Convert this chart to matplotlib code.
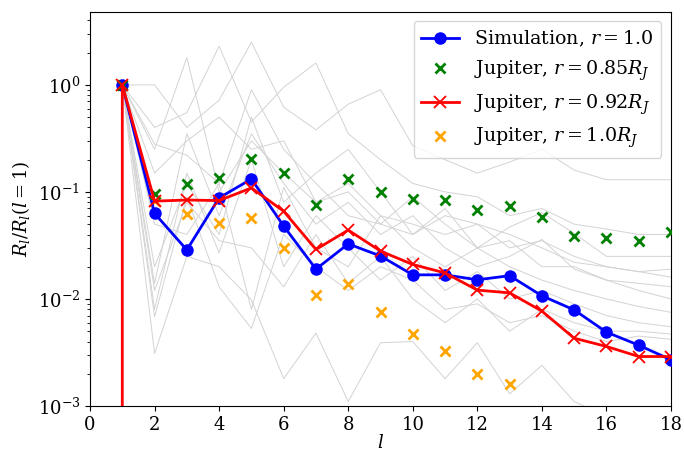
import numpy as np
import matplotlib
matplotlib.use("Agg")
import matplotlib.pyplot as plt

plt.rcParams['font.family'] = 'serif'
plt.rcParams['font.serif'] = ['DejaVu Serif']
plt.rcParams['mathtext.fontset'] = 'dejavuserif'
plt.rcParams['font.size'] = 13

l = np.arange(1, 19)

# simulation, r = 1.0
sim = [1.0, 0.063, 0.0287, 0.088, 0.132, 0.048, 0.019, 0.0327, 0.0252, 0.0168,
       0.0168, 0.0151, 0.0165, 0.0107, 0.0079, 0.0049, 0.0037, 0.0027]

# Jupiter spectra at three radii
jup_085 = [1.0, 0.096, 0.118, 0.135, 0.204, 0.15, 0.076, 0.132, 0.1, 0.086,
           0.084, 0.068, 0.074, 0.058, 0.039, 0.037, 0.035, 0.042]
l_092 = [1, 1, 2, 3, 4, 5, 6, 7, 8, 9, 10, 11, 12, 13, 14, 15, 16, 17, 18]
jup_092 = [0.0, 1.0, 0.082, 0.084, 0.083, 0.109, 0.066, 0.029, 0.044, 0.028, 0.021,
           0.0175, 0.0121, 0.0114, 0.0077, 0.0043, 0.0036, 0.0029, 0.0029]
l_100 = np.arange(1, 14)
jup_100 = [1.0, 0.082, 0.062, 0.051, 0.057, 0.030, 0.011, 0.0138, 0.0075, 0.0047,
           0.0033, 0.0020, 0.0016]

# other simulation snapshots (grey background lines)
grey_runs = [
    [1, 1.0, 0.40, 0.72, 2.5, 0.62, 0.38, 0.66, 0.9, 0.27, 0.2, 0.15, 0.19, 0.25, 0.16, 0.13, 0.13, 0.13],
    [1, 0.40, 0.55, 2.3, 0.45, 0.95, 1.6, 0.35, 0.20, 0.12, 0.10, 0.09, 0.06, 0.07, 0.05, 0.045, 0.04, 0.04],
    [1, 0.25, 1.8, 0.10, 0.30, 0.15, 0.08, 0.12, 0.06, 0.05, 0.04, 0.05, 0.03, 0.035, 0.025, 0.02, 0.018, 0.016],
    [1, 0.28, 0.22, 0.12, 0.90, 0.25, 0.12, 0.06, 0.05, 0.09, 0.05, 0.03, 0.047, 0.064, 0.041, 0.025, 0.025, 0.025],
    [1, 0.014, 0.35, 0.06, 0.35, 0.12, 0.05, 0.08, 0.04, 0.06, 0.03, 0.02, 0.025, 0.036, 0.019, 0.015, 0.014, 0.013],
    [1, 0.0031, 0.025, 0.020, 0.0098, 0.0018, 0.0048, 0.0011, 0.0039, 0.004, 0.0018, 0.0039, 0.0013, 0.0024, 0.0011, 0.0008, 0.0007, 0.0006],
    [1, 0.008, 0.15, 0.027, 0.20, 0.02, 0.06, 0.03, 0.015, 0.025, 0.012, 0.018, 0.01, 0.012, 0.009, 0.007, 0.006, 0.0055],
    [1, 0.0068, 0.09, 0.013, 0.0053, 0.04, 0.02, 0.012, 0.02, 0.015, 0.008, 0.009, 0.006, 0.007, 0.005, 0.004, 0.0045, 0.0042],
    [1, 0.05, 0.04, 0.12, 0.008, 0.11, 0.03, 0.02, 0.06, 0.03, 0.02, 0.03, 0.02, 0.015, 0.012, 0.01, 0.0085, 0.0075],
    [1, 0.02, 0.12, 0.04, 0.5, 0.08, 0.15, 0.25, 0.1, 0.04, 0.06, 0.05, 0.04, 0.03, 0.022, 0.02, 0.018, 0.019],
    [1, 0.012, 0.08, 0.035, 0.03, 0.013, 0.04, 0.014, 0.025, 0.01, 0.006, 0.01, 0.005, 0.008, 0.006, 0.005, 0.005, 0.0047],
    [1, 0.15, 0.3, 0.5, 0.25, 0.3, 0.08, 0.1, 0.05, 0.04, 0.07, 0.03, 0.035, 0.02, 0.02, 0.015, 0.012, 0.010],
]

fig = plt.figure(figsize=(6.84, 4.54), dpi=100)
ax = fig.add_axes([0.1316, 0.1057, 0.8494, 0.868])

for run in grey_runs:
    ax.plot(l, run, color='#d3d3d3', lw=0.7, zorder=1)

ax.plot(l, sim, 'o-', color='blue', ms=8, lw=2, label=r'Simulation, $r = 1.0$', zorder=3)
ax.plot(l, jup_085, 'x', color='green', ms=7, mew=2, label=r'Jupiter, $r = 0.85R_J$', zorder=4)
ax.plot(l_092, jup_092, 'x-', color='red', ms=9, mew=1.3, lw=2, label=r'Jupiter, $r = 0.92R_J$', zorder=5)
ax.plot(l_100, jup_100, 'x', color='orange', ms=7, mew=2, label=r'Jupiter, $r = 1.0R_J$', zorder=2.5)

ax.set_yscale('log')
ax.set_xlim(0, 18)
ax.set_ylim(1e-3, 4.8)
ax.set_xticks(range(0, 19, 2))
ax.set_xlabel(r'$l$', labelpad=0)
ax.set_ylabel(r'$R_l/R_l(l=1)$')
ax.legend(loc='upper right', fontsize=13.7)

fig.savefig('out.png', dpi=100)
